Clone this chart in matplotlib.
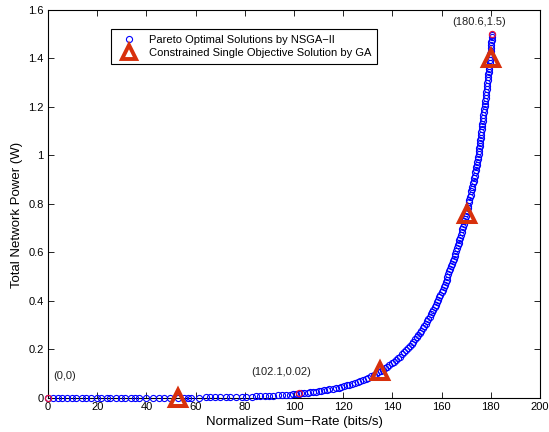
import matplotlib
matplotlib.use("Agg")
import matplotlib.pyplot as plt

plt.rcParams['font.family'] = ['Liberation Sans', 'DejaVu Sans']

# Pareto front from NSGA-II (sum-rate, total power)
rate = [0, 2.1, 4.0, 5.6, 7.9, 9.8, 11.5, 13.9, 15.6, 17.4, 19.8, 21.5, 23.9, 25.2, 27.8,
        29.6, 31.3, 33.9, 35.4, 36.8, 39.7, 42.5, 45.3, 47.0, 49.6, 52.8, 55.1, 56.9, 58.3,
        61.4, 64.2, 65.8, 67.9, 70.1, 72.4, 74.0, 76.3, 78.8, 80.5, 82.9, 84.6, 86.1, 88.3,
        89.9, 91.6, 93.4, 95.0, 96.7, 98.2, 99.6,
        100.8, 102.1, 103.0, 104.2, 105.5, 106.4, 107.6, 108.9, 110.1, 111.0, 112.3, 113.5,
        114.4, 115.8, 116.9, 118.1, 119.0, 120.2, 121.5, 122.4, 123.6, 124.8, 125.9, 126.8,
        128.0, 129.2, 130.1, 131.3, 132.4, 133.2, 134.3, 135.2, 136.1, 137.0, 138.0, 138.8,
        139.7, 140.6, 141.4, 142.3, 143.0, 143.9, 144.7, 145.5, 146.3, 147.0, 147.8, 148.5,
        149.3, 150.0,
        150.6, 151.2, 151.8, 152.4, 153.0, 153.5, 154.1, 154.6, 155.2, 155.7, 156.2, 156.7,
        157.2, 157.7, 158.2, 158.6, 159.1, 159.5, 160.0, 160.4, 160.8, 161.2, 161.6, 162.0,
        162.4, 162.8, 163.2, 163.5, 163.9, 164.2, 164.6, 164.9, 165.3, 165.6, 165.9, 166.3,
        166.6, 166.9, 167.2, 167.5, 167.8, 168.1, 168.4, 168.7, 169.0, 169.3, 169.5, 169.8,
        170.1, 170.3, 170.6, 170.8, 171.1, 171.3, 171.6, 171.8, 172.1, 172.3, 172.5, 172.8,
        173.0, 173.2, 173.4, 173.7, 173.9, 174.1, 174.3, 174.5, 174.7, 174.9,
        175.1, 175.2, 175.4, 175.5, 175.6, 175.8, 175.9, 176.0, 176.2, 176.3, 176.5, 176.6,
        176.8, 176.9, 177.0, 177.2, 177.3, 177.5, 177.6, 177.7, 177.9, 178.0, 178.1, 178.3,
        178.4, 178.5, 178.7, 178.8, 178.9, 179.1, 179.2, 179.3, 179.5, 179.6, 179.7, 179.8,
        179.9, 180.0, 180.1, 180.2, 180.3, 180.4, 180.5]
power = [0, 0.0001, 0.0001, 0.0001, 0.0001, 0.0001, 0.0001, 0.0001, 0.0002, 0.0002, 0.0002,
         0.0002, 0.0002, 0.0003, 0.0003, 0.0003, 0.0004, 0.0004, 0.0004, 0.0005, 0.0006,
         0.0007, 0.0008, 0.0009, 0.0010, 0.0012, 0.0014, 0.0015, 0.0016, 0.0019, 0.0022,
         0.0024, 0.0027, 0.0031, 0.0035, 0.0038, 0.0043, 0.0049, 0.0054, 0.0061, 0.0068,
         0.0074, 0.0083, 0.0091, 0.0100, 0.0111, 0.0121, 0.0133, 0.0144, 0.0156,
         0.0167, 0.0185, 0.0188, 0.0201, 0.0216, 0.0227, 0.0242, 0.0260, 0.0278, 0.0292,
         0.0314, 0.0336, 0.0353, 0.0381, 0.0405, 0.0433, 0.0455, 0.0486, 0.0522, 0.0548,
         0.0586, 0.0626, 0.0666, 0.0699, 0.0748, 0.0799, 0.0839, 0.0897, 0.0953, 0.0996,
         0.1058, 0.1112, 0.1169, 0.1228, 0.1298, 0.1357, 0.1426, 0.1498, 0.1566, 0.1646,
         0.1711, 0.1798, 0.1879, 0.1964, 0.2053, 0.2133, 0.2230, 0.2318, 0.2422, 0.2518,
         0.2602, 0.2690, 0.2781, 0.2874, 0.2971, 0.3054, 0.3157, 0.3245, 0.3355, 0.3449,
         0.3545, 0.3644, 0.3746, 0.3851, 0.3959, 0.4047, 0.4161, 0.4253, 0.4373, 0.4470,
         0.4570, 0.4672, 0.4776, 0.4883, 0.4992, 0.5103, 0.5217, 0.5304, 0.5423, 0.5513,
         0.5636, 0.5731, 0.5859, 0.5956, 0.6056, 0.6191, 0.6294, 0.6399, 0.6506, 0.6615,
         0.6726, 0.6837, 0.6952, 0.7068, 0.7186, 0.7306, 0.7387, 0.7510, 0.7635, 0.7721,
         0.7849, 0.7937, 0.8069, 0.8159, 0.8294, 0.8387, 0.8527, 0.8622, 0.8717, 0.8863,
         0.8961, 0.9060, 0.9161, 0.9314, 0.9418, 0.9522, 0.9628, 0.9735, 0.9842, 0.9952,
         1.006, 1.018, 1.029, 1.041, 1.052, 1.063, 1.074, 1.085, 1.097, 1.108, 1.120, 1.131,
         1.143, 1.155, 1.166, 1.178, 1.190, 1.202, 1.214, 1.226, 1.238, 1.250, 1.262, 1.274,
         1.286, 1.298, 1.310, 1.322, 1.334, 1.346, 1.358, 1.370, 1.382, 1.394, 1.406, 1.418,
         1.430, 1.442, 1.454, 1.466, 1.477, 1.488, 1.496]

# single objective GA solutions
ga_rate = [53.0, 135.0, 170.2, 180.0]
ga_power = [0.0013, 0.11, 0.76, 1.40]

# highlighted points
mark_rate = [0, 102.1, 180.6]
mark_power = [0, 0.02, 1.5]
mark_text = ['(0,0)', '(102.1,0.02)', '(180.6,1.5)']
text_pos = [(2.2, 0.091), (82.8, 0.108), (164.5, 1.552)]

xticks = [0, 20, 40, 60, 80, 100, 120, 140, 160, 180, 200]
yticks = [0, 0.2, 0.4, 0.6, 0.8, 1.0, 1.2, 1.4, 1.6]
ytick_labels = ['0', '0.2', '0.4', '0.6', '0.8', '1', '1.2', '1.4', '1.6']

fig = plt.figure(figsize=(5.49, 4.32), dpi=100)
ax = fig.add_axes([0.0874, 0.0787, 0.8962, 0.8982])

ax.plot(rate, power, 'o', color='blue', mfc='none', ms=4.4, mew=0.8, clip_on=False,
        label='Pareto Optimal Solutions by NSGA\u2212II', zorder=3)
ax.plot(ga_rate, ga_power, '^', color='#d8300c', mfc='none', ms=12, mew=2.9, clip_on=False,
        label='Constrained Single Objective Solution by GA', zorder=4)
ax.plot(mark_rate, mark_power, 'o', color='#e8143c', mfc='none', ms=4.4, mew=0.9,
        clip_on=False, zorder=5)

for t, (tx, ty) in zip(mark_text, text_pos):
    ax.text(tx, ty, t, fontsize=8, ha='left', va='center', color='#222222')

ax.set_xlim(0, 200)
ax.set_ylim(0, 1.6)
ax.set_xticks(xticks)
ax.set_yticks(yticks)
ax.set_yticklabels(ytick_labels)
ax.tick_params(direction='in', top=True, right=True, length=4, width=0.6, labelsize=8, pad=3)
for s in ax.spines.values():
    s.set_linewidth(0.8)

ax.set_xlabel('Normalized Sum\u2212Rate (bits/s)', fontsize=9.5)
ax.set_ylabel('Total Network Power (W)', fontsize=9.5)
ax.xaxis.set_label_coords(0.501, -0.047)
ax.yaxis.set_label_coords(-0.051, 0.472)

leg = ax.legend(loc='upper left', bbox_to_anchor=(0.129, 0.952), borderaxespad=0,
                fontsize=8, fancybox=False, edgecolor='black', framealpha=1,
                handlelength=2.0, handletextpad=0.8, borderpad=0.55, labelspacing=0.3)
leg.get_frame().set_linewidth(0.8)
leg.legend_handles[1].set_markersize(10)
leg.legend_handles[1].set_markeredgewidth(2.8)

fig.savefig('out.png', dpi=100)
